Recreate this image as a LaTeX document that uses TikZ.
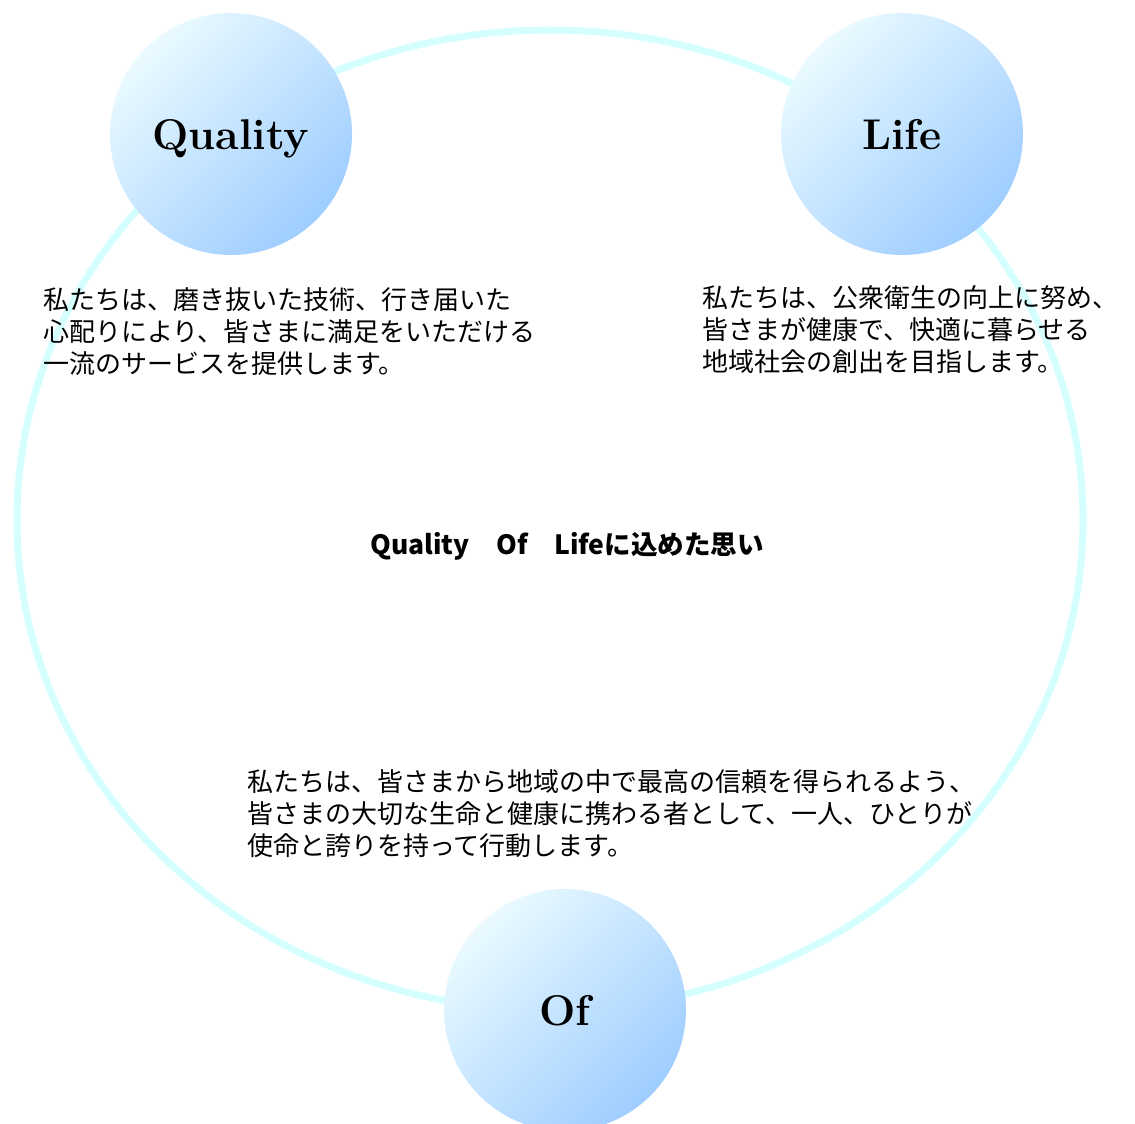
\documentclass[tikz,border=0pt]{standalone}
\usepackage{fontspec}
\newfontfamily\jpfont{Noto Sans CJK JP}
\usetikzlibrary{positioning}
\definecolor{ringcyan}{HTML}{D5FFFF}
\definecolor{balllight}{HTML}{EAFAFF}
\definecolor{balldark}{HTML}{9ECDFF}
\tikzset{%
	ball/.style   = {circle, minimum size=242pt, inner sep=0pt, text height=30pt, text depth=0pt, top color=balllight, bottom color=balldark, shading angle=45, font=\fontsize{43}{43}\selectfont\bfseries},
	ring/.style   = {ringcyan, line width=7pt},
	para/.style   = {anchor=west, inner sep=0pt, align=left, font=\jpfont\fontsize{26}{32}\selectfont},
	heading/.style= {inner sep=0pt, font=\jpfont\bfseries\fontsize{26.5}{26.5}\selectfont},
}
\begin{document}
\begin{tikzpicture}[x=1pt,y=-1pt]
		\useasboundingbox (0,0) rectangle (1135,1124);
		\clip (0,0) rectangle (1135,1124);
		\draw[ring] (550,520) ellipse [x radius=533pt, y radius=490pt];
		
		\node[ball] (quality) at (231,134) {Quality};
		\node[ball] (life) at (902,134) {Life};
		\node[ball] (of) at (565,1010) {Of};
		
		\node[heading] (title) at (567,546) {Quality　Of　Lifeに込めた思い};
		
		\node[para] (qualitytext) at (43,332) {私たちは、磨き抜いた技術、行き届いた\\心配りにより、皆さまに満足をいただける\\一流のサービスを提供します。};
		\node[para] (lifetext) at (702,330) {私たちは、公衆衛生の向上に努め、\\皆さまが健康で、快適に暮らせる\\地域社会の創出を目指します。};
		\node[para] (oftext) at (247,814) {私たちは、皆さまから地域の中で最高の信頼を得られるよう、\\皆さまの大切な生命と健康に携わる者として、一人、ひとりが\\使命と誇りを持って行動します。};
\end{tikzpicture}
\end{document}
